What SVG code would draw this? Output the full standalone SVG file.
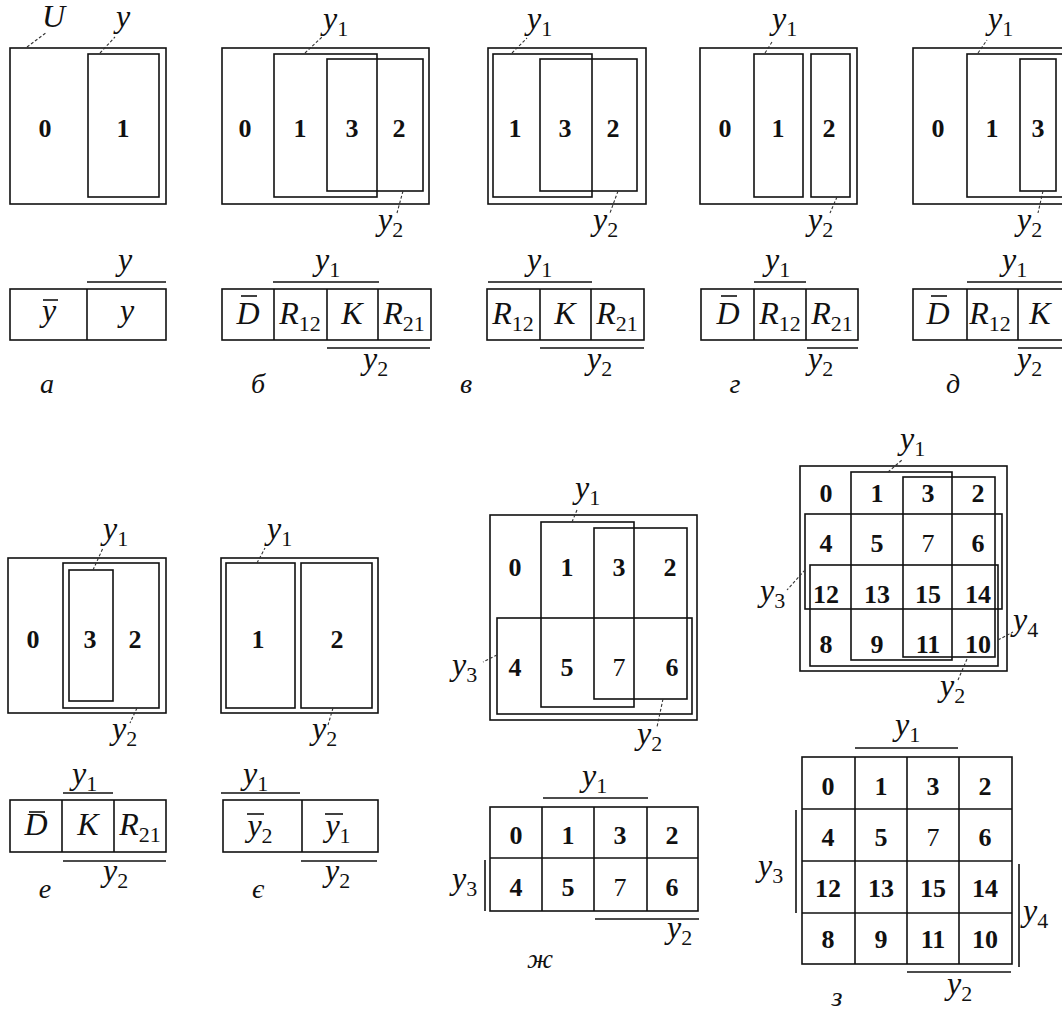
<svg xmlns="http://www.w3.org/2000/svg" width="1062" height="1015" viewBox="0 0 1062 1015">
<style>
rect,line{fill:none;stroke:#111;stroke-width:1.6}
.ld{stroke:#333;stroke-width:1.1;stroke-dasharray:3 2}
.dg{font-family:"Liberation Serif",serif;font-weight:bold;font-size:26px;text-anchor:middle;fill:#111}
.dt{font-weight:normal}
.it{font-family:"Liberation Serif",serif;font-style:italic;font-size:32px;fill:#111}
.c{text-anchor:middle}
.sb{font-family:"Liberation Serif",serif;font-style:normal;font-size:22px}
.pl{font-family:"Liberation Serif",serif;font-style:italic;font-size:28px;text-anchor:middle;fill:#111}
</style>
<rect x="0" y="0" width="1062" height="1015" style="fill:#fff;stroke:none"/>

<g id="panel-a">
<rect x="10" y="48" width="156" height="156"/>
<rect x="88" y="54" width="71" height="143"/>
<text class="dg" x="45" y="137">0</text><text class="dg" x="123" y="137">1</text>
<text class="it" x="42" y="27">U</text>
<text class="it" x="116" y="27">y</text>
<rect x="10" y="289" width="156" height="51"/><line x1="87" y1="289" x2="87" y2="340"/>
<line x1="87" y1="282" x2="166" y2="282"/>
<text class="it" x="118" y="270">y</text>
<text class="it c" x="49" y="321">y</text><line x1="43" y1="300" x2="58" y2="300"/>
<text class="it c" x="127" y="321">y</text>
<text class="pl" x="47" y="393">а</text>
</g>

<g id="panel-b">
<rect x="222" y="48" width="207" height="156"/>
<rect x="274" y="54" width="103" height="143"/>
<rect x="327" y="59" width="96" height="132"/>
<text class="dg" x="245" y="137">0</text><text class="dg" x="300" y="137">1</text><text class="dg" x="352" y="137">3</text><text class="dg" x="399" y="137">2</text>
<text class="it" x="323" y="29">y<tspan class="sb" dy="7">1</tspan></text>
<text class="it" x="378" y="230">y<tspan class="sb" dy="7">2</tspan></text>
<rect x="222" y="289" width="209" height="51"/>
<line x1="274" y1="289" x2="274" y2="340"/><line x1="327" y1="289" x2="327" y2="340"/><line x1="378" y1="289" x2="378" y2="340"/>
<line x1="273" y1="282" x2="379" y2="282"/><line x1="327" y1="348" x2="430" y2="348"/>
<text class="it" x="315" y="270">y<tspan class="sb" dy="7">1</tspan></text>
<text class="it" x="363" y="369">y<tspan class="sb" dy="7">2</tspan></text>
<text class="it c" x="248" y="324">D</text><line x1="241" y1="296" x2="257" y2="296"/>
<text class="it c" x="300" y="324">R<tspan class="sb" dy="7">12</tspan></text>
<text class="it c" x="352" y="324">K</text>
<text class="it c" x="404" y="324">R<tspan class="sb" dy="7">21</tspan></text>
<text class="pl" x="258" y="393">б</text>
</g>

<g id="panel-v">
<rect x="488" y="48" width="158" height="156"/>
<rect x="493" y="54" width="99" height="143"/>
<rect x="540" y="59" width="97" height="132"/>
<text class="dg" x="515" y="137">1</text><text class="dg" x="565" y="137">3</text><text class="dg" x="613" y="137">2</text>
<text class="it" x="527" y="29">y<tspan class="sb" dy="7">1</tspan></text>
<text class="it" x="593" y="230">y<tspan class="sb" dy="7">2</tspan></text>
<rect x="487" y="289" width="157" height="51"/>
<line x1="540" y1="289" x2="540" y2="340"/><line x1="591" y1="289" x2="591" y2="340"/>
<line x1="488" y1="282" x2="592" y2="282"/><line x1="540" y1="348" x2="644" y2="348"/>
<text class="it" x="527" y="270">y<tspan class="sb" dy="7">1</tspan></text>
<text class="it" x="587" y="369">y<tspan class="sb" dy="7">2</tspan></text>
<text class="it c" x="513" y="324">R<tspan class="sb" dy="7">12</tspan></text>
<text class="it c" x="565" y="324">K</text>
<text class="it c" x="617" y="324">R<tspan class="sb" dy="7">21</tspan></text>
<text class="pl" x="466" y="393">в</text>
</g>

<g id="panel-g">
<rect x="700" y="48" width="157" height="156"/>
<rect x="754" y="54" width="49" height="143"/>
<rect x="811" y="54" width="39" height="143"/>
<text class="dg" x="725" y="137">0</text><text class="dg" x="778" y="137">1</text><text class="dg" x="829" y="137">2</text>
<text class="it" x="772" y="29">y<tspan class="sb" dy="7">1</tspan></text>
<text class="it" x="808" y="230">y<tspan class="sb" dy="7">2</tspan></text>
<rect x="701" y="289" width="157" height="51"/>
<line x1="754" y1="289" x2="754" y2="340"/><line x1="806" y1="289" x2="806" y2="340"/>
<line x1="754" y1="282" x2="806" y2="282"/><line x1="807" y1="348" x2="858" y2="348"/>
<text class="it" x="765" y="270">y<tspan class="sb" dy="7">1</tspan></text>
<text class="it" x="808" y="369">y<tspan class="sb" dy="7">2</tspan></text>
<text class="it c" x="728" y="324">D</text><line x1="721" y1="296" x2="737" y2="296"/>
<text class="it c" x="780" y="324">R<tspan class="sb" dy="7">12</tspan></text>
<text class="it c" x="832" y="324">R<tspan class="sb" dy="7">21</tspan></text>
<text class="pl" x="735" y="393">г</text>
</g>

<g id="panel-d">
<rect x="913" y="48" width="200" height="156"/>
<rect x="967" y="54" width="140" height="143"/>
<rect x="1020" y="59" width="36" height="132"/>
<text class="dg" x="938" y="137">0</text><text class="dg" x="992" y="137">1</text><text class="dg" x="1038" y="137">3</text>
<text class="it" x="988" y="29">y<tspan class="sb" dy="7">1</tspan></text>
<text class="it" x="1017" y="230">y<tspan class="sb" dy="7">2</tspan></text>
<rect x="913" y="289" width="200" height="51"/>
<line x1="967" y1="289" x2="967" y2="340"/><line x1="1018" y1="289" x2="1018" y2="340"/>
<line x1="967" y1="282" x2="1070" y2="282"/><line x1="1018" y1="348" x2="1070" y2="348"/>
<text class="it" x="1002" y="270">y<tspan class="sb" dy="7">1</tspan></text>
<text class="it" x="1017" y="369">y<tspan class="sb" dy="7">2</tspan></text>
<text class="it c" x="938" y="324">D</text><line x1="931" y1="296" x2="947" y2="296"/>
<text class="it c" x="990" y="324">R<tspan class="sb" dy="7">12</tspan></text>
<text class="it c" x="1040" y="324">K</text>
<text class="pl" x="953" y="393">д</text>
</g>

<g id="panel-e">
<rect x="8" y="558" width="158" height="155"/>
<rect x="63" y="563" width="96" height="145"/>
<rect x="69" y="570" width="44" height="131"/>
<text class="dg" x="33" y="648">0</text><text class="dg" x="90" y="648">3</text><text class="dg" x="135" y="648">2</text>
<text class="it" x="103" y="539">y<tspan class="sb" dy="7">1</tspan></text>
<text class="it" x="112" y="739">y<tspan class="sb" dy="7">2</tspan></text>
<rect x="10" y="800" width="156" height="52"/>
<line x1="62" y1="800" x2="62" y2="852"/><line x1="114" y1="800" x2="114" y2="852"/>
<line x1="63" y1="793" x2="113" y2="793"/><line x1="63" y1="861" x2="166" y2="861"/>
<text class="it" x="72" y="784">y<tspan class="sb" dy="7">1</tspan></text>
<text class="it" x="103" y="881">y<tspan class="sb" dy="7">2</tspan></text>
<text class="it c" x="36" y="835">D</text><line x1="29" y1="812" x2="45" y2="812"/>
<text class="it c" x="88" y="835">K</text>
<text class="it c" x="140" y="835">R<tspan class="sb" dy="7">21</tspan></text>
<text class="pl" x="45" y="898">е</text>
</g>

<g id="panel-ye">
<rect x="221" y="558" width="157" height="155"/>
<rect x="226" y="563" width="69" height="145"/>
<rect x="301" y="563" width="71" height="145"/>
<text class="dg" x="258" y="648">1</text><text class="dg" x="337" y="648">2</text>
<text class="it" x="267" y="539">y<tspan class="sb" dy="7">1</tspan></text>
<text class="it" x="312" y="739">y<tspan class="sb" dy="7">2</tspan></text>
<rect x="223" y="800" width="155" height="52"/>
<line x1="302" y1="800" x2="302" y2="852"/>
<line x1="221" y1="793" x2="300" y2="793"/><line x1="301" y1="861" x2="377" y2="861"/>
<text class="it" x="243" y="784">y<tspan class="sb" dy="7">1</tspan></text>
<text class="it" x="325" y="881">y<tspan class="sb" dy="7">2</tspan></text>
<text class="it c" x="260" y="836">y<tspan class="sb" dy="7">2</tspan></text><line x1="247" y1="814" x2="264" y2="814"/>
<text class="it c" x="338" y="836">y<tspan class="sb" dy="7">1</tspan></text><line x1="325" y1="814" x2="343" y2="814"/>
<text class="pl" x="258" y="898">є</text>
</g>

<g id="panel-zh">
<rect x="490" y="515" width="207" height="205"/>
<rect x="541" y="522" width="93" height="185"/>
<rect x="594" y="528" width="93" height="171"/>
<rect x="497" y="618" width="195" height="96"/>
<text class="dg" x="515" y="576">0</text><text class="dg" x="567" y="576">1</text><text class="dg" x="619" y="576">3</text><text class="dg" x="670" y="576">2</text>
<text class="dg" x="515" y="676">4</text><text class="dg" x="567" y="676">5</text><text class="dg dt" x="619" y="676">7</text><text class="dg" x="672" y="676">6</text>
<text class="it" x="575" y="498">y<tspan class="sb" dy="7">1</tspan></text>
<text class="it" x="637" y="744">y<tspan class="sb" dy="7">2</tspan></text>
<text class="it" x="452" y="675">y<tspan class="sb" dy="7">3</tspan></text>
<rect x="490" y="807" width="208" height="104"/>
<line x1="490" y1="858" x2="698" y2="858"/>
<line x1="542" y1="807" x2="542" y2="911"/><line x1="594" y1="807" x2="594" y2="911"/><line x1="647" y1="807" x2="647" y2="911"/>
<line x1="543" y1="798" x2="648" y2="798"/><line x1="485" y1="860" x2="485" y2="911"/><line x1="595" y1="919" x2="699" y2="919"/>
<text class="it" x="582" y="786">y<tspan class="sb" dy="7">1</tspan></text>
<text class="it" x="452" y="889">y<tspan class="sb" dy="7">3</tspan></text>
<text class="it" x="667" y="938">y<tspan class="sb" dy="7">2</tspan></text>
<text class="dg" x="516" y="844">0</text><text class="dg" x="568" y="844">1</text><text class="dg" x="620" y="844">3</text><text class="dg" x="672" y="844">2</text>
<text class="dg" x="516" y="896">4</text><text class="dg" x="568" y="896">5</text><text class="dg dt" x="620" y="896">7</text><text class="dg" x="672" y="896">6</text>
<text class="pl" x="540" y="968">ж</text>
</g>

<g id="panel-z">
<rect x="800" y="466" width="207" height="205"/>
<rect x="851" y="472" width="101" height="188"/>
<rect x="903" y="477" width="92" height="180"/>
<rect x="805" y="514" width="197" height="95"/>
<rect x="810" y="565" width="188" height="101"/>
<text class="dg" x="826" y="502">0</text><text class="dg" x="877" y="502">1</text><text class="dg" x="928" y="502">3</text><text class="dg" x="978" y="502">2</text>
<text class="dg" x="826" y="552">4</text><text class="dg" x="877" y="552">5</text><text class="dg dt" x="928" y="552">7</text><text class="dg" x="978" y="552">6</text>
<text class="dg" x="826" y="603">12</text><text class="dg" x="877" y="603">13</text><text class="dg" x="928" y="603">15</text><text class="dg" x="978" y="603">14</text>
<text class="dg" x="826" y="653">8</text><text class="dg" x="877" y="653">9</text><text class="dg" x="928" y="653">11</text><text class="dg" x="978" y="653">10</text>
<text class="it" x="900" y="449">y<tspan class="sb" dy="7">1</tspan></text>
<text class="it" x="940" y="696">y<tspan class="sb" dy="7">2</tspan></text>
<text class="it" x="760" y="601">y<tspan class="sb" dy="7">3</tspan></text>
<text class="it" x="1013" y="630">y<tspan class="sb" dy="7">4</tspan></text>
<rect x="802" y="757" width="210" height="207"/>
<line x1="802" y1="809" x2="1012" y2="809"/><line x1="802" y1="861" x2="1012" y2="861"/><line x1="802" y1="913" x2="1012" y2="913"/>
<line x1="855" y1="757" x2="855" y2="964"/><line x1="907" y1="757" x2="907" y2="964"/><line x1="959" y1="757" x2="959" y2="964"/>
<line x1="855" y1="748" x2="958" y2="748"/><line x1="796" y1="810" x2="796" y2="913"/><line x1="1019" y1="864" x2="1019" y2="967"/><line x1="907" y1="972" x2="1011" y2="972"/>
<text class="it" x="895" y="735">y<tspan class="sb" dy="7">1</tspan></text>
<text class="it" x="758" y="876">y<tspan class="sb" dy="7">3</tspan></text>
<text class="it" x="1023" y="921">y<tspan class="sb" dy="7">4</tspan></text>
<text class="it" x="947" y="994">y<tspan class="sb" dy="7">2</tspan></text>
<text class="dg" x="828" y="795">0</text><text class="dg" x="881" y="795">1</text><text class="dg" x="933" y="795">3</text><text class="dg" x="985" y="795">2</text>
<text class="dg" x="828" y="846">4</text><text class="dg" x="881" y="846">5</text><text class="dg dt" x="933" y="846">7</text><text class="dg" x="985" y="846">6</text>
<text class="dg" x="828" y="897">12</text><text class="dg" x="881" y="897">13</text><text class="dg" x="933" y="897">15</text><text class="dg" x="985" y="897">14</text>
<text class="dg" x="828" y="948">8</text><text class="dg" x="881" y="948">9</text><text class="dg" x="933" y="948">11</text><text class="dg" x="985" y="948">10</text>
<text class="pl" x="837" y="1006">з</text>
</g>

<g id="connectors">
<line class="ld" x1="27" y1="47" x2="47" y2="32"/>
<line class="ld" x1="100" y1="53" x2="115" y2="37"/>
<line class="ld" x1="305" y1="53" x2="322" y2="37"/>
<line class="ld" x1="403" y1="191" x2="397" y2="213"/>
<line class="ld" x1="512" y1="53" x2="527" y2="38"/>
<line class="ld" x1="618" y1="191" x2="610" y2="213"/>
<line class="ld" x1="765" y1="53" x2="772" y2="42"/>
<line class="ld" x1="837" y1="197" x2="830" y2="213"/>
<line class="ld" x1="978" y1="53" x2="987" y2="40"/>
<line class="ld" x1="1043" y1="191" x2="1038" y2="213"/>
<line class="ld" x1="93" y1="570" x2="103" y2="548"/>
<line class="ld" x1="137" y1="708" x2="130" y2="723"/>
<line class="ld" x1="257" y1="563" x2="265" y2="548"/>
<line class="ld" x1="333" y1="708" x2="328" y2="725"/>
<line class="ld" x1="572" y1="522" x2="577" y2="510"/>
<line class="ld" x1="663" y1="699" x2="657" y2="727"/>
<line class="ld" x1="497" y1="655" x2="483" y2="662"/>
<line class="ld" x1="888" y1="472" x2="902" y2="460"/>
<line class="ld" x1="967" y1="659" x2="958" y2="680"/>
<line class="ld" x1="805" y1="570" x2="787" y2="590"/>
<line class="ld" x1="998" y1="640" x2="1013" y2="632"/>
</g>
</svg>
